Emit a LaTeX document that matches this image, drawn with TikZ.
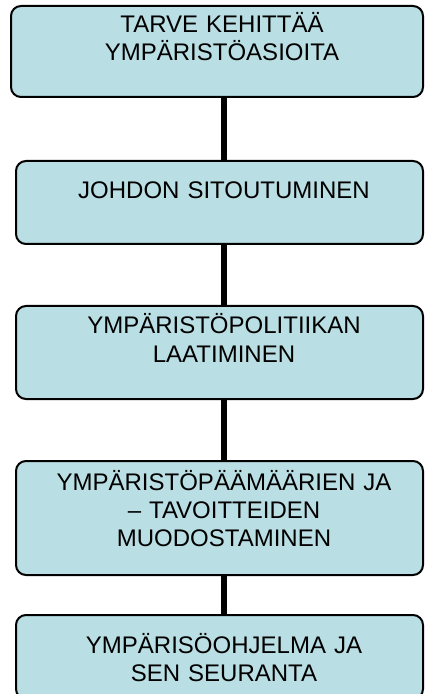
\documentclass[tikz,border=0pt]{standalone}
\usepackage{fontspec}
\setmainfont{Liberation Sans}
\usetikzlibrary{positioning}

\definecolor{caixa}{RGB}{185,222,227}

\tikzset{
  etapa/.style={draw=black, line width=1pt, fill=caixa, rounded corners=5pt, inner sep=0pt, minimum width=203.5pt},
  texto/.style={text width=200pt, align=center, inner sep=0pt, anchor=base, font=\fontsize{12}{14}\selectfont},
  ligacao/.style={-, color=black, line width=2.75pt}
}

\begin{document}
\begin{tikzpicture}[x=0.5pt, y=-0.5pt]
        \useasboundingbox (0,0) rectangle (424,694);

        % Caixas
        \node[etapa, minimum width=206pt, minimum height=45.5pt] (b1) at (217,51.5) {};
        \node[etapa, minimum height=41.5pt] (b2) at (219.5,202.5) {};
        \node[etapa, minimum height=46.5pt] (b3) at (219.5,352.5) {};
        \node[etapa, minimum height=57pt] (b4) at (219.5,518) {};
        \node[etapa, minimum height=42pt] (b5) at (219.5,657) {};

        % Textos
        \node[texto] (t1) at (222,33) {TARVE KEHITTÄÄ\\YMPÄRISTÖASIOITA};
        \node[texto] (t2) at (224,199) {JOHDON SITOUTUMINEN};
        \node[texto] (t3) at (224,334) {YMPÄRISTÖPOLITIIKAN\\LAATIMINEN};
        \node[texto] (t4) at (224,490) {YMPÄRISTÖPÄÄMÄÄRIEN JA\\– TAVOITTEIDEN\\MUODOSTAMINEN};
        \node[texto] (t5) at (224,653) {YMPÄRISÖOHJELMA JA\\SEN SEURANTA};

        % Linhas
        \draw[ligacao] (b1.south -| t2) -- (t2 |- b2.north);
        \draw[ligacao] (b2.south -| t3) -- (t3 |- b3.north);
        \draw[ligacao] (b3.south -| t4) -- (t4 |- b4.north);
        \draw[ligacao] (b4.south -| t5) -- (t5 |- b5.north);
\end{tikzpicture}
\end{document}
